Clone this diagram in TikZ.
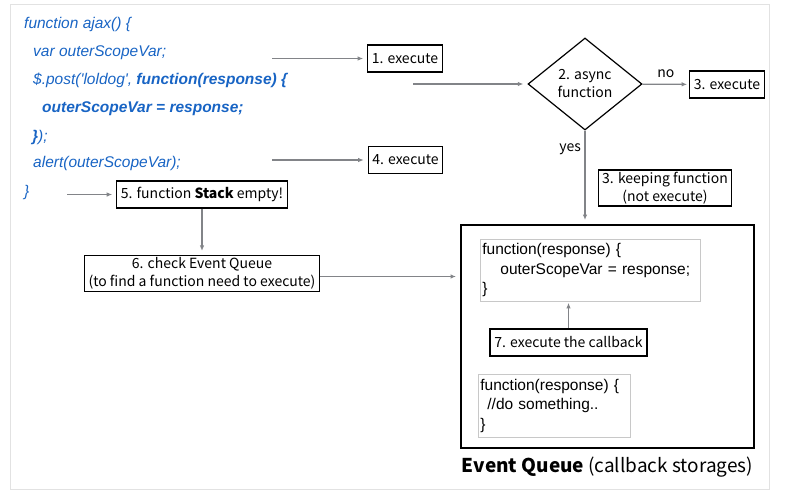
\documentclass[tikz,border=0pt]{standalone}
\usepackage{fontspec}
\setmainfont{Noto Sans CJK KR}
\newfontfamily\codefont{Liberation Sans}
\usetikzlibrary{arrows.meta,shapes.geometric,positioning}
\definecolor{codeblue}{RGB}{24,100,196}
\definecolor{linkgray}{RGB}{130,132,136}
\definecolor{framegray}{RGB}{226,226,226}
\definecolor{boxgray}{RGB}{200,200,200}

\begin{document}
\begin{tikzpicture}[x=1pt, y=-1pt,
  code/.style={anchor=west, font=\codefont\itshape\fontsize{15.5}{18}\selectfont, text=codeblue, inner sep=0pt, text height=11pt, text depth=3pt},
  lbl/.style={draw, line width=1.2pt, font=\fontsize{14}{18}\selectfont, inner xsep=4pt, inner ysep=2pt, minimum height=27pt, align=center},
  callbox/.style={draw=boxgray, line width=0.8pt, anchor=north west, align=left, inner sep=2pt, font=\codefont\fontsize{15.5}{19.5}\selectfont},
  link/.style={draw=linkgray, line width=1.3pt, -{Latex[length=5.5pt,width=4.5pt]}, shorten >=4pt}]
  \useasboundingbox (0,0) rectangle (788,496);
  \draw[framegray, line width=0.8pt] (10,4) rectangle (769,489);

  % the code
  \node[code] (c1) at (24,24) {function ajax() \{};
  \node[code] (c2) at (33,52) {var outerScopeVar;};
  \node[code] (c3) at (33,80) {\$.post('loldog', \textbf{function(response) \{}};
  \node[code] (c4) at (42,108) {\textbf{outerScopeVar = response;}};
  \node[code] (c5) at (32,137) {\textbf{\}});};
  \node[code] (c6) at (33,163) {alert(outerScopeVar);};
  \node[code] (c7) at (24,192) {\}};

  % steps
  \node[lbl] (exec1) at (405,58.5) {1. execute};
  \node[draw, line width=1.2pt, diamond, aspect=1.24, minimum width=114pt, minimum height=92pt, inner sep=0pt, align=center, font=\fontsize{14}{18}\selectfont] (async) at (585,84) {2. async\\function};
  \node[lbl] (exec3) at (727,84.5) {3. execute};
  \node[lbl] (keep) at (665,188) {3. keeping function\\(not execute)};
  \node[lbl] (exec4) at (405.5,160) {4. execute};
  \node[lbl] (empty) at (202,194.5) {5. function \textbf{Stack} empty!};
  \node[lbl] (check) at (202,273.5) {6. check Event Queue\\(to find a function need to execute)};

  % event queue
  \node[draw, line width=2pt, minimum width=293pt, minimum height=223pt] (queue) at (607.5,336.5) {};
  \node[callbox, text width=216pt, minimum height=62pt] (cb1) at (480,239) {function(response) \{\\\hspace*{18pt}outerScopeVar = response;\\\}};
  \node[lbl, line width=2pt] (exec7) at (568.5,342.5) {7. execute the callback};
  \node[callbox, text width=148pt, minimum height=63pt] (cb2) at (478,374) {function(response) \{\\\hspace*{7pt}//do something..\\\}};
  \node[font=\fontsize{19}{23}\selectfont] (qlabel) at (607.5,467) {\textbf{Event Queue} (callback storages)};

  % links
  \coordinate (s1) at (272,58.5);
  \coordinate (s2) at (413,84);
  \coordinate (s4) at (272,160);
  \coordinate (s5) at (67,194.5);
  \draw[link] (s1) -- (exec1);
  \draw[link] (s2) -- (async);
  \draw[link, shorten >=2pt] (async) -- node[above, font=\fontsize{14}{18}\selectfont, yshift=3pt] {no} (exec3);
  \draw[link] (async.south) -- node[left, pos=0.2, font=\fontsize{14}{18}\selectfont] {yes} (async.south |- queue.north);
  \draw[link] (s4) -- (exec4);
  \draw[link] (s5) -- (empty);
  \draw[link] (empty) -- (check);
  \draw[link] ([yshift=-3pt]check.east) -- ([yshift=-3pt]check.east -| queue.west);
  \draw[link, shorten >=1pt] (exec7) -- (exec7 |- cb1.south);
\end{tikzpicture}
\end{document}
